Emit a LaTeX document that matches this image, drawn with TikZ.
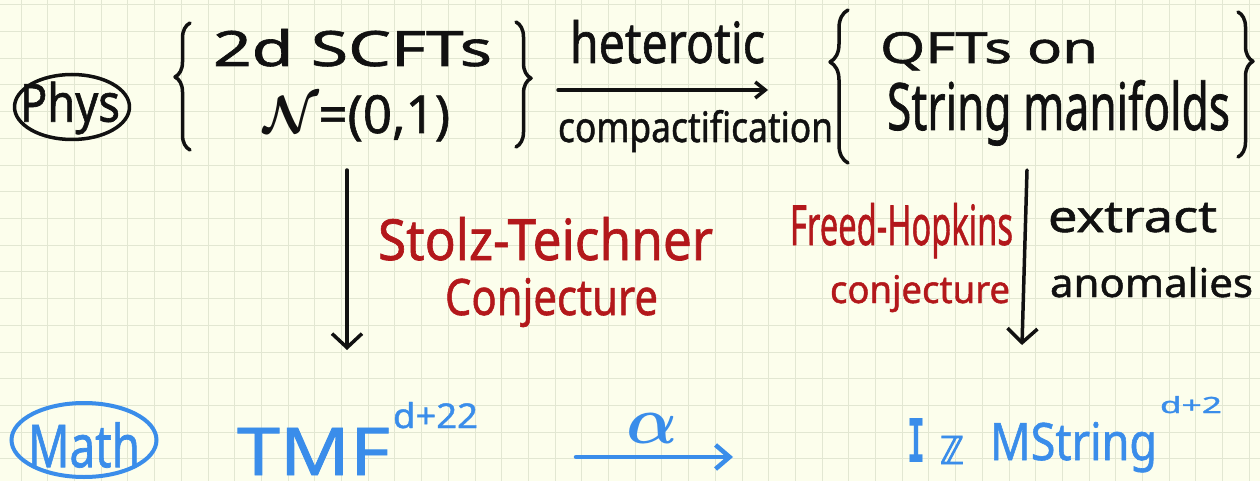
\documentclass[tikz,border=0pt]{standalone}
\usepackage{fontspec}
\usepackage{graphicx}
\setmainfont{Noto Sans}
\newfontfamily\hw{Noto Sans}[FakeBold=1.2]
\newfontfamily\dejavu{DejaVu Sans}[FakeBold=2.5]
\newfontfamily\monofam{DejaVu Sans Mono}
\usetikzlibrary{decorations.pathreplacing,arrows.meta,shapes.geometric}
\definecolor{paper}{HTML}{FCFEEC}
\definecolor{gridc}{HTML}{E2E7D2}
\definecolor{ink}{HTML}{111111}
\definecolor{hred}{HTML}{B3181B}
\definecolor{hblue}{HTML}{3A8DEA}
\newcommand{\fitbox}[3]{\resizebox{#1pt}{#2pt}{#3}}
\begin{document}
\begin{tikzpicture}[x=1pt,y=-1pt,
  txt/.style={anchor=base west, inner sep=0pt, outer sep=0pt, font=\hw},
  blk/.style={txt, text=ink},
  redtxt/.style={txt, text=hred},
  bluetxt/.style={txt, text=hblue},
  pen/.style={line width=3.5pt, line cap=round, line join=round},
  bluepen/.style={line width=4.5pt, line cap=round, line join=round, hblue},
  bracestyle/.style={pen, ink, decorate, decoration={brace, amplitude=#1}},
  ring/.style={ellipse, inner sep=0pt},
  gridline/.style={gridc, line width=0.8pt},
  vtip/.style={-{Straight Barb[length=14pt,width=30pt]}},
  htip/.style={-{Straight Barb[length=10pt,width=16pt]}},
  btip/.style={-{Straight Barb[length=14pt,width=24pt]}}
]
\fill[paper] (0,0) rectangle (1260,481);
\useasboundingbox (0,0) rectangle (1260,481);
\foreach \i in {0,...,46} \draw[gridline] ({21+26.7*\i},0) -- ({21+26.7*\i},481);
\foreach \j in {0,...,17} \draw[gridline] (0,{4.8+26.7*\j}) -- (1260,{4.8+26.7*\j});

% Phys row
\node[ring, draw=ink, pen, minimum width=115pt, minimum height=65pt] (physring) at (72,107) {};
\node[inner sep=0pt, text=ink, font=\hw] (phys) at (70,108) {\fitbox{100}{40}{Phys}};

\draw[bracestyle=15pt, decoration={aspect=0.575}] (190,150) -- (190,23);
\node[blk] (scft) at (213,66) {\fitbox{279}{37}{2d SCFTs}};
\node[blk] (neq) at (263,133) {\fitbox{187}{38}{{\boldmath$\mathcal{N}$}=(0,1)}};
\draw[bracestyle=15pt, decoration={aspect=0.45}] (516,22) -- (516,147);

\node[blk] (het) at (570,63) {\fitbox{195}{43}{heterotic}};
\coordinate (h1) at (558,90);
\coordinate (h2) at (768,90);
\draw[pen, ink, htip] (h1) -- (h2);
\node[blk] (comp) at (558,142) {\fitbox{275}{32}{compactification}};

\draw[bracestyle=18pt, decoration={aspect=0.66}] (848,163) -- (848,10);
\node[blk] (qft) at (880,63) {\fitbox{218}{31}{QFTs on}};
\node[blk] (strm) at (887,130) {\fitbox{343}{50}{String manifolds}};
\draw[bracestyle=15pt, decoration={aspect=0.34}] (1238,12) -- (1238,157);

% vertical arrows
\coordinate (v1) at (347,170);
\coordinate (v2) at (347,350);
\draw[pen, ink, vtip] (v1) -- (v2);
\coordinate (w1) at (1027,170);
\coordinate (w2) at (1022,345);
\draw[pen, ink, vtip] (w1) -- (w2);

\node[redtxt] (st) at (378,260) {\fitbox{335}{43}{Stolz-Teichner}};
\node[redtxt] (stc) at (445,315) {\fitbox{213}{37}{Conjecture}};
\node[redtxt] (fh) at (790,245) {\fitbox{223}{42}{Freed-Hopkins}};
\node[redtxt] (fhc) at (830,303) {\fitbox{180}{28}{conjecture}};
\node[blk] (ext) at (1048,232) {\fitbox{169}{29}{extract}};
\node[blk] (anom) at (1050,297) {\fitbox{203}{30}{anomalies}};

% Math row
\node[ring, draw=hblue, line width=4pt, minimum width=145pt, minimum height=74pt] (mathring) at (84,440) {};
\node[inner sep=0pt, text=hblue, font=\hw] (math) at (84,445) {\fitbox{112}{45}{Math}};

\node[bluetxt] (tmf) at (237,475) {\fitbox{153}{47}{TMF}};
\node[bluetxt] (tmfsup) at (393,428) {\fitbox{85}{26}{d+22}};

\coordinate (b1) at (576,457);
\coordinate (b2) at (733,457);
\draw[bluepen, btip] (b1) -- (b2);
\node[inner sep=0pt, text=hblue] (alpha) at (652,428) {\resizebox{!}{30pt}{\boldmath$\alpha$}};

\node[bluetxt] (iz) at (907,462) {\fitbox{18}{44}{\monofam\bfseries I}};
\node[bluetxt] (zz) at (940,464) {\fitbox{24}{28}{\dejavu ℤ}};
\node[bluetxt] (mstr) at (990,460) {\fitbox{167}{38}{MString}};
\node[bluetxt] (mssup) at (1160,413) {\fitbox{62}{17}{d+2}};
\end{tikzpicture}
\end{document}
